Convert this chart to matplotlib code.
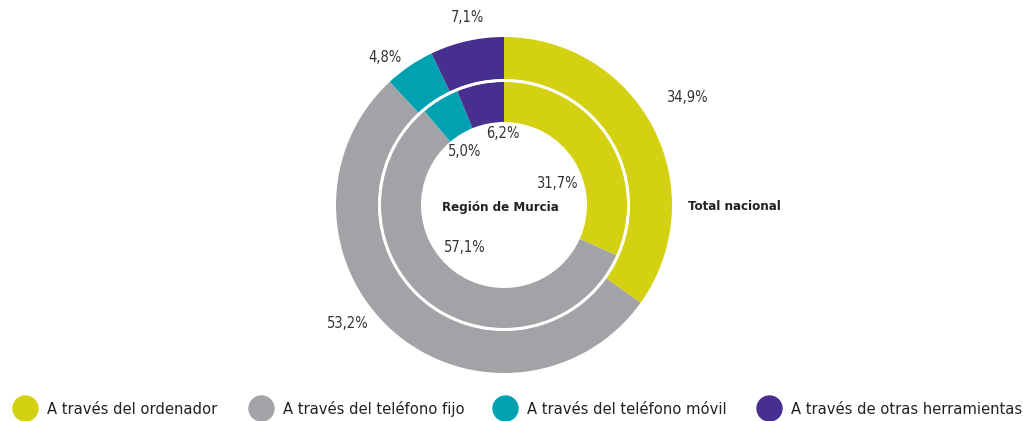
import matplotlib
matplotlib.use("Agg")
import matplotlib.pyplot as plt

plt.rcParams["font.family"] = ["DejaVu Sans"]
plt.rcParams["font.stretch"] = "condensed"

categories = ["A través del ordenador", "A través del teléfono fijo",
              "A través del teléfono móvil", "A través de otras herramientas"]
total_nacional = [34.9, 53.2, 4.8, 7.1]
region_murcia = [31.7, 57.1, 5.0, 6.2]
colors = ["#D4D112", "#A2A3A7", "#00A2B1", "#472F90"]

# label positions (pixel coords, y from top)
outer_label_pos = [(687, 97), (348, 323), (385, 58), (468, 17)]
inner_label_pos = [(557, 183), (465, 247), (465, 152), (503, 134)]
legend_x = [25, 261, 505, 769]

W, H = 1023, 421
fig = plt.figure(figsize=(W / 100, H / 100), dpi=100)
ax = fig.add_axes([0, 0, 1, 1])

cx, cy = 504, H - 205

ax.pie(total_nacional, colors=colors, radius=168, center=(cx, cy),
       startangle=90, counterclock=False, frame=True,
       wedgeprops=dict(width=42, linewidth=0))
ax.pie(region_murcia, colors=colors, radius=123, center=(cx, cy),
       startangle=90, counterclock=False, frame=True,
       wedgeprops=dict(width=40, linewidth=0))
# white ring between the two donuts
ax.add_patch(plt.Circle((cx, cy), 124.5, fill=False, edgecolor="white", linewidth=1.8))
ax.set_xlim(0, W)
ax.set_ylim(0, H)
ax.set_aspect("equal")
ax.axis("off")

fmt = lambda v: f"{v:.1f}".replace(".", ",") + "%"
for v, (x, y) in zip(total_nacional, outer_label_pos):
    ax.text(x, H - y, fmt(v), ha="center", va="center", fontsize=10.5, color="#333333")
for v, (x, y) in zip(region_murcia, inner_label_pos):
    ax.text(x, H - y, fmt(v), ha="center", va="center", fontsize=10.5, color="#333333")

ax.text(500, H - 207, "Región de Murcia", ha="center", va="center",
        fontsize=9.5, fontweight="bold", color="#222222")
ax.text(688, H - 207, "Total nacional", ha="left", va="center",
        fontsize=9.5, fontweight="bold", color="#222222")

# legend drawn by hand along the bottom
for x, c, name in zip(legend_x, colors, categories):
    ax.plot(x, H - 408, marker="o", markersize=19, color=c, markeredgewidth=0,
            clip_on=False)
    ax.text(x + 22, H - 409, name, ha="left", va="center", fontsize=11.8,
            color="#222222")

fig.savefig("out.png", dpi=100)
